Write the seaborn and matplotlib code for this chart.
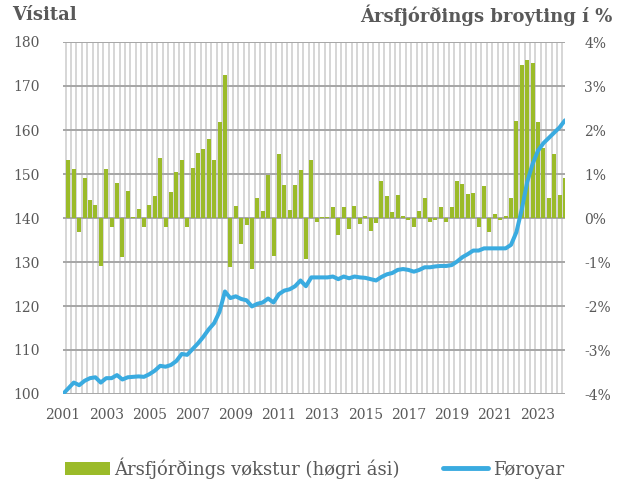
import numpy as np
import pandas as pd
import matplotlib
matplotlib.use('Agg')
import matplotlib.pyplot as plt
import seaborn as sns
from matplotlib.patches import Patch
from matplotlib.lines import Line2D

# ársfjórðingar 2001Q1 - 2024Q2
quarters = pd.period_range('2001Q1', '2024Q2', freq='Q')

# ársfjórðings vøkstur í % (høgri ási), fyrsti ársfjórðingur hevur ongan vøkstur
vokstur = [np.nan, 1.32, 1.11, -0.31, 0.92, 0.42, 0.30, -1.09, 1.11, -0.21,
           0.80, -0.88, 0.61, 0.02, 0.20, -0.21, 0.30, 0.50, 1.36, -0.21,
           0.58, 1.05, 1.32, -0.21, 1.13, 1.47, 1.56, 1.79, 1.32, 2.19,
           3.24, -1.12, 0.28, -0.58, -0.15, -1.17, 0.45, 0.16, 0.97, -0.86,
           1.45, 0.75, 0.18, 0.75, 1.09, -0.94, 1.32, -0.08, 0.03, 0.03,
           0.26, -0.39, 0.26, -0.25, 0.28, -0.14, 0.05, -0.30, -0.12, 0.83,
           0.50, 0.14, 0.52, 0.05, -0.05, -0.20, 0.16, 0.45, -0.08, -0.05,
           0.26, -0.10, 0.26, 0.83, 0.77, 0.55, 0.56, -0.21, 0.73, -0.31,
           0.10, -0.05, 0.05, 0.46, 2.21, 3.48, 3.59, 3.53, 2.18, 1.60,
           0.46, 1.45, 0.52, 0.90]

# vísital Føroyar (vinstri ási)
visital = [100.0, 101.3, 102.6, 102.0, 103.0, 103.6, 103.8, 102.6, 103.6, 103.6,
           104.3, 103.3, 103.8, 103.9, 104.0, 103.9, 104.5, 105.3, 106.4, 106.2,
           106.6, 107.5, 109.1, 108.9, 110.2, 111.5, 113.0, 114.7, 116.1, 118.7,
           123.3, 121.8, 122.2, 121.6, 121.3, 119.9, 120.5, 120.8, 121.7, 120.8,
           122.7, 123.5, 123.8, 124.5, 125.8, 124.5, 126.5, 126.5, 126.5, 126.5,
           126.7, 126.1, 126.7, 126.3, 126.7, 126.5, 126.4, 126.1, 125.8, 126.6,
           127.2, 127.5, 128.2, 128.4, 128.2, 127.8, 128.2, 128.8, 128.8, 129.0,
           129.1, 129.1, 129.3, 130.1, 131.1, 131.8, 132.6, 132.6, 133.1, 133.1,
           133.1, 133.1, 133.1, 133.9, 136.8, 142.0, 148.2, 152.3, 155.3, 157.0,
           158.2, 159.4, 160.6, 162.2]

GREEN = '#9bbb29'
BLUE = '#3aabe0'
GREY = '#595959'

df = pd.DataFrame({'pos': np.arange(len(quarters)),
                   'vokstur': vokstur,
                   'visital': visital})

sns.set_theme(style='white')
plt.rcParams['font.family'] = ['DejaVu Serif']

fig = plt.figure(figsize=(6.19, 4.82), dpi=100)
ax = fig.add_axes([63/619, 1 - 394/482, (565 - 63)/619, (394 - 42)/482])
ax2 = ax.twinx()

# súlur á høgri ási
sns.barplot(data=df, x='pos', y='vokstur', ax=ax, color=GREEN, order=df['pos'].tolist(),
            saturation=1, width=0.74, errorbar=None, edgecolor='none', linewidth=0)
# linja á vinstri ási
sns.lineplot(data=df, x='pos', y='visital', ax=ax2, color=BLUE, lw=2.9)

ax.set_xlim(0, len(quarters) - 1)
ax.set_ylim(-4, 4)
ax2.set_ylim(100, 180)

# gitur
ax.set_axisbelow(True)
ax.set_yticks(range(-4, 5))
ax.set_xticks(np.arange(0.5, len(quarters) - 1, 1), minor=True)
ax.grid(axis='x', which='minor', color='#d6d6d6', lw=1.4)
ax.grid(axis='x', which='major', visible=False)
ax.grid(axis='y', which='major', color='#a6a6a6', lw=1.4)
ax2.grid(False)

# x-ás: hvørt annað ár
year_pos = df['pos'][::8].tolist()
ax.set_xticks(year_pos)
ax.set_xticklabels([str(q.year) for q in quarters[::8]])

ax.yaxis.tick_right()
ax.set_yticklabels([f'{v}%' for v in range(-4, 5)])
ax2.yaxis.tick_left()
ax2.set_yticks(range(100, 181, 10))

ax.tick_params(axis='x', which='both', length=0, pad=10, labelsize=10, labelcolor=GREY)
ax.tick_params(axis='y', length=0, pad=14, labelsize=10, labelcolor=GREY)
ax2.tick_params(axis='y', length=0, pad=17, labelsize=10, labelcolor=GREY)

for a in (ax, ax2):
    a.set_xlabel('')
    a.set_ylabel('')
    for s in a.spines.values():
        s.set_visible(False)

fig.text(12/619, 1 - 15/482, 'Vísital', ha='left', va='center',
         weight='bold', size=13, color=GREY)
fig.text(612/619, 1 - 15/482, 'Ársfjórðings broyting í %', ha='right',
         va='center', weight='bold', size=13, color=GREY)

handles = [Patch(facecolor=GREEN, edgecolor='none'),
           Line2D([0], [0], color=BLUE, lw=3.5)]
labels = ['Ársfjórðings vøkstur (høgri ási)', 'Føroyar']
leg = fig.legend(handles, labels, loc='center', bbox_to_anchor=(0.508, 1 - 468/482),
                 ncol=2, frameon=False, fontsize=13, handlelength=2.5,
                 columnspacing=2.4, handletextpad=0.25)
for t in leg.get_texts():
    t.set_color(GREY)

fig.savefig('out.png', dpi=100)
